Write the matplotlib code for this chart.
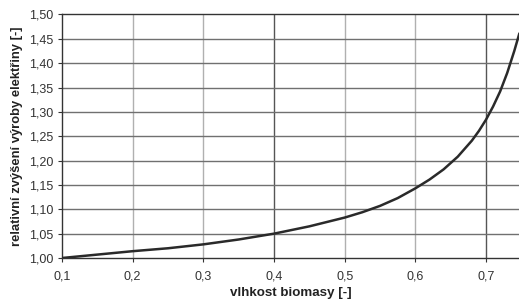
import matplotlib
matplotlib.use("Agg")
import matplotlib.pyplot as plt

moisture = [0.10, 0.15, 0.20, 0.25, 0.30, 0.35, 0.40, 0.45, 0.50, 0.525, 0.55, 0.575,
            0.60, 0.62, 0.64, 0.66, 0.68, 0.69, 0.70, 0.71, 0.72, 0.73, 0.74, 0.747]
increase = [1.000, 1.007, 1.014, 1.020, 1.028, 1.038, 1.050, 1.065, 1.083, 1.094, 1.107, 1.123,
            1.143, 1.161, 1.182, 1.208, 1.241, 1.261, 1.284, 1.311, 1.342, 1.380, 1.425, 1.460]

x_ticks = [0.1, 0.2, 0.3, 0.4, 0.5, 0.6, 0.7]
x_ticklabels = ["0,1", "0,2", "0,3", "0,4", "0,5", "0,6", "0,7"]
y_ticks = [1.00, 1.05, 1.10, 1.15, 1.20, 1.25, 1.30, 1.35, 1.40, 1.45, 1.50]
y_ticklabels = ["1,00", "1,05", "1,10", "1,15", "1,20", "1,25", "1,30", "1,35", "1,40", "1,45", "1,50"]

plt.rcParams['font.family'] = ['Liberation Sans', 'DejaVu Sans']

fig = plt.figure(figsize=(5.19, 3.07), dpi=100)
ax = fig.add_axes([0.1195, 0.1596, 0.8805, 0.7932])

ax.set_xlim(0.1, 0.7467)
ax.set_ylim(1.0, 1.5)

for xv in x_ticks[1:]:
    c = '#555555' if xv in (0.4, 0.7) else '#b0b0b0'
    ax.axvline(xv, color=c, lw=1.0, zorder=1)
for yv in y_ticks[1:-1]:
    ax.axhline(yv, color='#707070', lw=1.0, zorder=1)

ax.plot(moisture, increase, color='#2a2a2a', lw=1.8, zorder=3, solid_joinstyle='round')

ax.set_xticks(x_ticks)
ax.set_xticklabels(x_ticklabels)
ax.set_yticks(y_ticks)
ax.set_yticklabels(y_ticklabels)
ax.tick_params(axis='both', labelsize=9, colors='#333333', length=3, width=0.8)
ax.tick_params(axis='x', pad=6)

for s in ['left', 'bottom', 'top']:
    ax.spines[s].set_color('#333333')
    ax.spines[s].set_linewidth(1.0)
ax.spines['right'].set_visible(False)

ax.set_xlabel("vlhkost biomasy [-]", fontsize=9.6, fontweight='bold', color='#222222', labelpad=3)
ax.set_ylabel("relativní zvýšení výroby elektřiny [-]", fontsize=9.4, fontweight='bold', color='#222222', labelpad=4)

fig.savefig("out.png", dpi=100)
